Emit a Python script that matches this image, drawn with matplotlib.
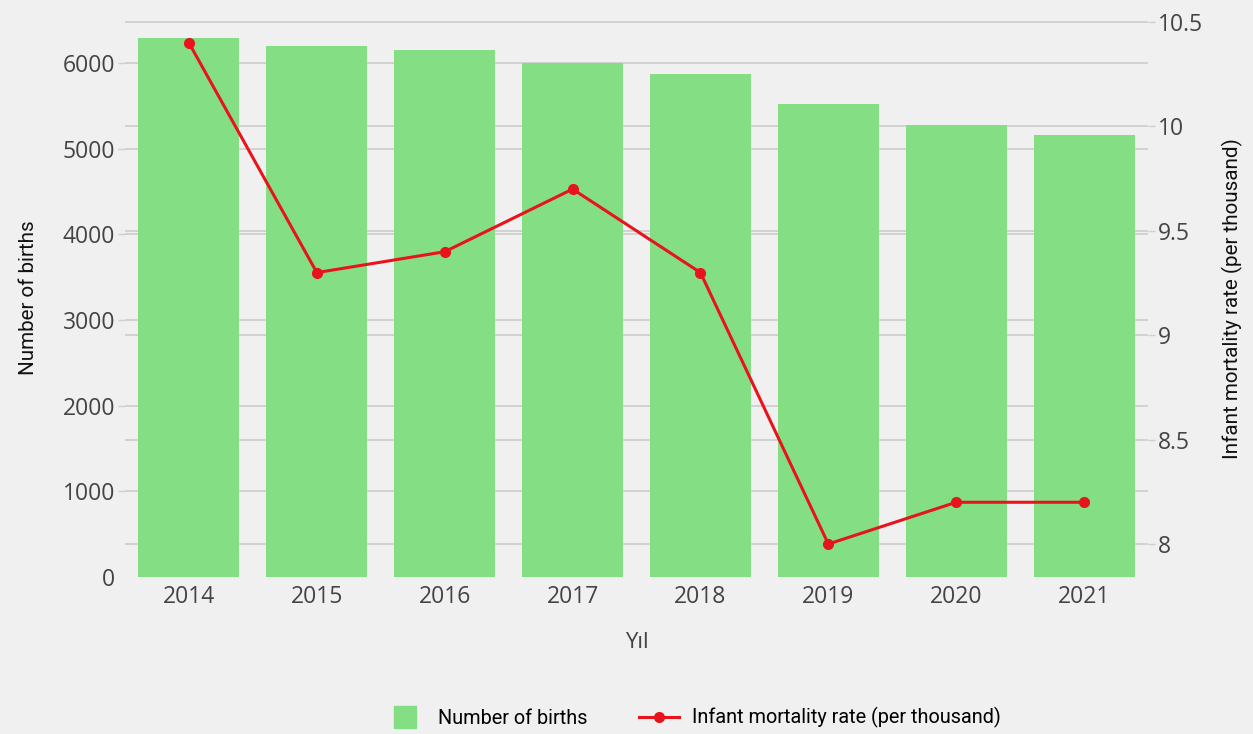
import matplotlib.pyplot as plt
from matplotlib.lines import Line2D

# data
years = ["2014", "2015", "2016", "2017", "2018", "2019", "2020", "2021"]
births = [6285, 6193, 6154, 6002, 5874, 5524, 5272, 5163]
mortality = [10.4, 9.3, 9.4, 9.7, 9.3, 8.0, 8.2, 8.2]
left_ticks = [0, 1000, 2000, 3000, 4000, 5000, 6000]
right_ticks = [8, 8.5, 9, 9.5, 10, 10.5]
right_labels = ["8", "8.5", "9", "9.5", "10", "10.5"]

bg = "#f0f0f0"
bar_color = "#84df84"
line_color = "#e8141c"
grid_color = "#cfcfcf"
tick_color = "#444444"

left_max = 6510
right_min, right_max = 7.842, 10.514

fig = plt.figure(figsize=(12.53, 7.34), dpi=100, facecolor=bg)
ax = fig.add_axes([0.0998, 0.2139, 0.8164, 0.760])
ax.set_facecolor(bg)
ax2 = ax.twinx()

x = range(len(years))
ax.bar(x, births, width=0.79, color=bar_color, zorder=2)
ax.set_xlim(-0.5, len(years) - 0.5)
ax.set_ylim(0, left_max)
ax.set_yticks(left_ticks)
ax.set_xticks(list(x))
ax.set_xticklabels(years)

ax2.plot(x, mortality, color=line_color, lw=2.2, marker="o", ms=7, zorder=5)
ax2.set_ylim(right_min, right_max)
ax2.set_yticks(right_ticks)
ax2.set_yticklabels(right_labels)

# gridlines for both axes, behind the bars (no line at zero)
for t in left_ticks[1:]:
    ax.axhline(t, color=grid_color, lw=1.3, zorder=0)
for t in right_ticks:
    ax.axhline((t - right_min) / (right_max - right_min) * left_max,
               color=grid_color, lw=1.3, zorder=0)

ax2.set_zorder(ax.get_zorder() + 1)
ax2.patch.set_visible(False)

for a in (ax, ax2):
    for s in a.spines.values():
        s.set_visible(False)

ax.tick_params(axis="y", length=5, width=1, color=grid_color, labelcolor=tick_color, pad=2)
ax.tick_params(axis="x", length=0, labelcolor=tick_color, pad=6)
ax2.tick_params(axis="y", length=5, width=1, color=grid_color, labelcolor=tick_color, pad=2)
ax.yaxis.get_major_ticks()[0].tick1line.set_visible(False)
for lab in ax.get_yticklabels() + ax.get_xticklabels() + ax2.get_yticklabels():
    lab.set_fontfamily("Open Sans")
    lab.set_fontsize(16.5)

title_font = {"family": "Roboto", "size": 14.9, "color": "#111111"}
ax.set_ylabel("Number of births", labelpad=18, **title_font)
ax2.set_ylabel("Infant mortality rate (per thousand)", labelpad=14, **title_font)
ax.set_xlabel("Yıl", labelpad=16, family="Open Sans", size=16, color=tick_color)

handles = [
    Line2D([0], [0], color=bar_color, lw=0, marker="s", ms=16),
    Line2D([0], [0], color=line_color, lw=2.2, marker="o", ms=7),
]
fig.legend(handles, ["Number of births", "Infant mortality rate (per thousand)"],
           loc="center", bbox_to_anchor=(0.553, 0.022), ncol=2, frameon=False,
           prop={"family": "Roboto", "size": 14.3}, handlelength=2.0,
           columnspacing=2.6, handletextpad=0.65)

fig.savefig("out.png", dpi=100, facecolor=bg)
